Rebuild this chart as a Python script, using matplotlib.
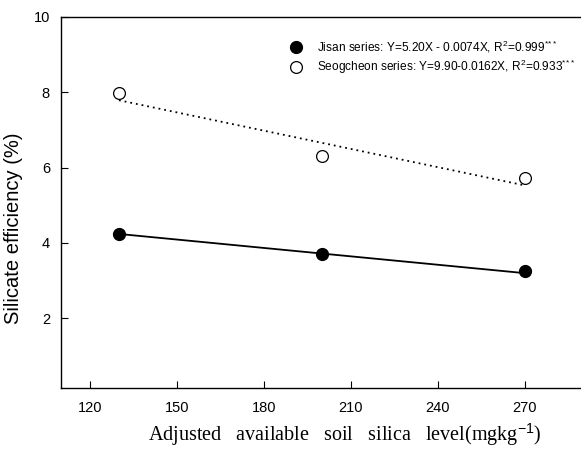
import matplotlib
matplotlib.use("Agg")
import matplotlib.pyplot as plt

# Data
x_levels = [130, 200, 270]
jisan = [4.25, 3.72, 3.25]
seogcheon = [7.97, 6.32, 5.72]
# regression line end values (at x=130 and x=270)
fit_x = [130, 270]
jisan_fit = [4.24, 3.20]
seog_fit = [7.79, 5.53]

x_ticks = [120, 150, 180, 210, 240, 270]
y_ticks = [2, 4, 6, 8, 10]

jisan_label = r"Jisan series: Y=5.20X - 0.0074X, R$^2$=0.999$^{*\!*\!*}$"
seog_label = r"Seogcheon series: Y=9.90-0.0162X, R$^2$=0.933$^{*\!*\!*}$"

plt.rcParams['font.family'] = ['Liberation Sans', 'DejaVu Sans']
plt.rcParams['mathtext.fontset'] = 'custom'
plt.rcParams['mathtext.rm'] = 'Liberation Sans'
plt.rcParams['mathtext.it'] = 'Liberation Sans'

W, H = 581, 450
fig = plt.figure(figsize=(W / 100, H / 100), dpi=100)
ax = fig.add_axes([61 / W, (H - 388) / H, 520 / W, 371 / H])

ax.plot(fit_x, jisan_fit, color='black', lw=1.3, ls='-', zorder=2)
ax.plot(fit_x, seog_fit, color='black', lw=1.3, ls=(0, (1, 2.2)), zorder=2)
ax.plot(x_levels, jisan, 'o', color='black', ms=8.5, zorder=3, label=jisan_label)
ax.plot(x_levels, seogcheon, 'o', mfc='white', mec='black', mew=0.9, ms=8.5,
        zorder=3, label=seog_label)

ax.set_xlim(110, 289.5)
ax.set_ylim(0.15, 10)
ax.set_xticks(x_ticks)
ax.set_yticks(y_ticks)
ax.tick_params(direction='in', length=5, width=0.8, labelsize=10.5)
ax.tick_params(axis='x', pad=9)
ax.tick_params(axis='y', pad=8)
for s in ['left', 'top', 'bottom']:
    ax.spines[s].set_linewidth(1.0)
ax.spines['right'].set_visible(False)

ax.set_ylabel("Silicate efficiency (%)", fontsize=14.5)
ax.yaxis.set_label_coords(-0.074, 0.43)
ax.set_xlabel(r"Adjusted   available   soil   silica   level(mgkg$^{-1}$)",
              fontsize=14.5, family=['Liberation Serif', 'DejaVu Serif'])
ax.xaxis.set_label_coords(0.546, -0.09)

leg = ax.legend(loc='upper left', bbox_to_anchor=(0.431, 0.955), frameon=False,
                fontsize=8.6, handletextpad=1.3, labelspacing=0.3,
                handlelength=1.0, borderaxespad=0)

fig.savefig("out.png", dpi=100)
